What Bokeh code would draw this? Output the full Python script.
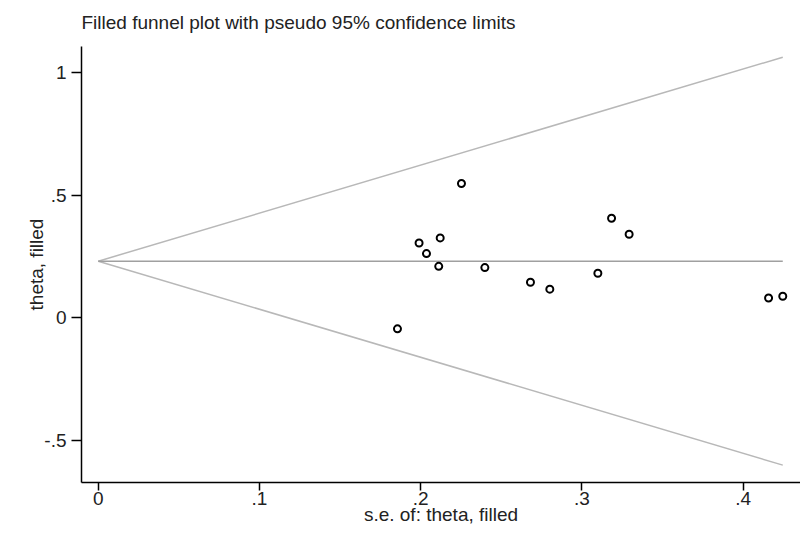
from bokeh.plotting import figure
from bokeh.models import FixedTicker, Range1d
from bokeh.embed import file_html
from bokeh.resources import INLINE

# Data
se = [0.1856, 0.1990, 0.2036, 0.2121, 0.2112, 0.2253, 0.2398, 0.2681, 0.2801,
      0.3099, 0.3184, 0.3293, 0.4158, 0.4246]
theta = [-0.046, 0.304, 0.261, 0.325, 0.209, 0.547, 0.204, 0.144, 0.116,
         0.181, 0.405, 0.340, 0.080, 0.087]
theta_pooled = 0.23
funnel_se = [0.0, 0.4246]
z = 1.96

x_ticks = [0, 0.1, 0.2, 0.3, 0.4]
x_tick_labels = ["0", ".1", ".2", ".3", ".4"]
y_ticks = [-0.5, 0, 0.5, 1]
y_tick_labels = ["-.5", "0", ".5", "1"]
title_text = "Filled funnel plot with pseudo 95% confidence limits"
x_title = "s.e. of: theta, filled"
y_title = "theta, filled"

FONT = "Liberation Sans"
FS = "19px"
TXT = "#222222"

p = figure(width=800, height=534, output_backend="svg", toolbar_location=None,
           x_range=Range1d(-0.0104, 0.4356), y_range=Range1d(-0.673, 1.106),
           min_border_left=81, min_border_right=0, min_border_bottom=52,
           min_border_top=45)
p.outline_line_color = None
p.grid.visible = False
p.background_fill_color = "white"
p.border_fill_color = "white"

p.title.text = title_text
p.title.align = "left"
p.title.vertical_align = "top"
p.title.text_font = FONT
p.title.text_font_size = FS
p.title.text_font_style = "normal"
p.title.text_color = TXT
p.title.standoff = 23

upper = [theta_pooled + z * s for s in funnel_se]
lower = [theta_pooled - z * s for s in funnel_se]
p.line(funnel_se, upper, line_color="#b8b8b8", line_width=1.5)
p.line(funnel_se, lower, line_color="#b8b8b8", line_width=1.5)
p.line(funnel_se, [theta_pooled] * len(funnel_se), line_color="#a0a0a0", line_width=1.6)

p.scatter(se, theta, marker="circle", size=7, fill_color="white",
          line_color="black", line_width=2)

for ax in (p.xaxis[0], p.yaxis[0]):
    ax.axis_line_color = "black"
    ax.axis_line_width = 1.5
    ax.major_tick_line_color = "black"
    ax.major_tick_line_width = 1.5
    ax.major_tick_in = 0
    ax.minor_tick_line_color = None
    ax.major_label_text_font = FONT
    ax.major_label_text_font_size = FS
    ax.major_label_text_color = TXT
    ax.axis_label_text_font = FONT
    ax.axis_label_text_font_size = FS
    ax.axis_label_text_font_style = "normal"
    ax.axis_label_text_color = TXT

p.xaxis.ticker = FixedTicker(ticks=x_ticks)
p.xaxis.major_label_overrides = dict(zip(x_ticks, x_tick_labels))
p.xaxis.axis_label = x_title
p.xaxis.major_tick_out = 8
p.xaxis.major_label_standoff = 1
p.xaxis.axis_label_standoff = -4

p.yaxis.ticker = FixedTicker(ticks=y_ticks)
p.yaxis.major_label_overrides = dict(zip(y_ticks, y_tick_labels))
p.yaxis.axis_label = y_title
p.yaxis.major_tick_out = 10
p.yaxis.major_label_orientation = "horizontal"
p.yaxis.major_label_standoff = 5
p.yaxis.axis_label_standoff = -6

open("out.html", "w").write(file_html(p, INLINE))
